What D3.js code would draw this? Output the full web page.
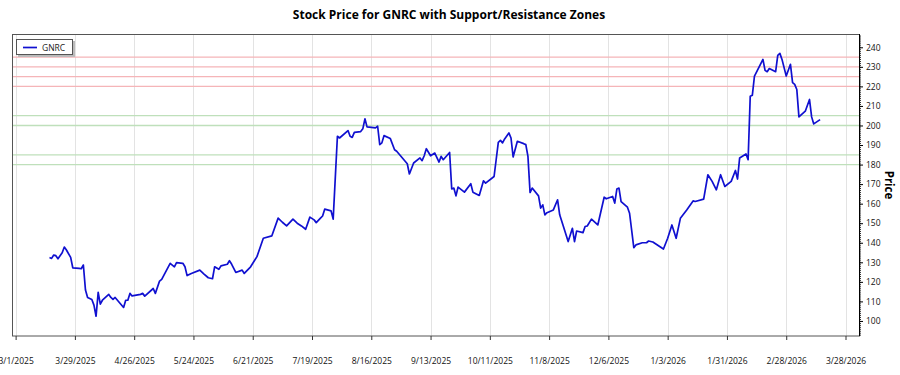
<!DOCTYPE html>
<html>
<head>
<meta charset="utf-8">
<script src="https://cdn.jsdelivr.net/npm/d3@7"></script>
<style>
  html, body { margin: 0; padding: 0; background: #fff; }
  svg { display: block; }
</style>
</head>
<body>
<svg id="chart" width="900" height="375"></svg>
<script>
// ---- DATA ----
const title = "Stock Price for GNRC with Support/Resistance Zones";
const seriesName = "GNRC";
const yLabel = "Price";

const dates = [
"2025-03-17","2025-03-18","2025-03-19","2025-03-20","2025-03-21","2025-03-23","2025-03-24","2025-03-25","2025-03-27","2025-03-28",
"2025-03-31","2025-04-01","2025-04-02","2025-04-03","2025-04-04","2025-04-06","2025-04-07","2025-04-08","2025-04-09","2025-04-10",
"2025-04-11","2025-04-14","2025-04-15","2025-04-16","2025-04-17","2025-04-21","2025-04-22","2025-04-23","2025-04-24","2025-04-25",
"2025-04-29","2025-04-30","2025-05-01","2025-05-05","2025-05-06","2025-05-08","2025-05-09","2025-05-13","2025-05-15","2025-05-16",
"2025-05-19","2025-05-20","2025-05-21","2025-05-23","2025-05-27","2025-05-29","2025-05-31","2025-06-02","2025-06-03","2025-06-05",
"2025-06-06","2025-06-09","2025-06-10","2025-06-11","2025-06-13","2025-06-16","2025-06-17","2025-06-20","2025-06-23","2025-06-26",
"2025-06-30","2025-07-03","2025-07-05","2025-07-07","2025-07-10","2025-07-12","2025-07-14","2025-07-16","2025-07-18","2025-07-20",
"2025-07-21","2025-07-23","2025-07-24","2025-07-25","2025-07-28","2025-07-29","2025-07-31","2025-08-01","2025-08-05","2025-08-06",
"2025-08-07","2025-08-08","2025-08-11","2025-08-12","2025-08-13","2025-08-14","2025-08-18","2025-08-19","2025-08-20","2025-08-21",
"2025-08-22","2025-08-25","2025-08-27","2025-08-28","2025-09-02","2025-09-03","2025-09-05","2025-09-08","2025-09-09","2025-09-10",
"2025-09-11","2025-09-13","2025-09-15","2025-09-17","2025-09-18","2025-09-19","2025-09-22","2025-09-23","2025-09-24","2025-09-25",
"2025-09-26","2025-09-29","2025-10-02","2025-10-03","2025-10-06","2025-10-08","2025-10-09","2025-10-13","2025-10-15","2025-10-16",
"2025-10-17","2025-10-18","2025-10-20","2025-10-21","2025-10-22","2025-10-24","2025-10-27","2025-10-28","2025-10-29","2025-10-30",
"2025-10-31","2025-11-03","2025-11-04","2025-11-05","2025-11-06","2025-11-07","2025-11-10","2025-11-12","2025-11-13","2025-11-17",
"2025-11-19","2025-11-20","2025-11-21","2025-11-24","2025-11-25","2025-11-26","2025-11-28","2025-12-01","2025-12-04","2025-12-05",
"2025-12-08","2025-12-09","2025-12-10","2025-12-11","2025-12-12","2025-12-15","2025-12-16","2025-12-18","2025-12-19","2025-12-22",
"2025-12-24","2025-12-25","2025-12-27","2026-01-01","2026-01-03","2026-01-05","2026-01-07","2026-01-09","2026-01-12","2026-01-15",
"2026-01-16","2026-01-20","2026-01-22","2026-01-24","2026-01-26","2026-01-28","2026-01-30","2026-02-02","2026-02-04","2026-02-05",
"2026-02-06","2026-02-09","2026-02-10","2026-02-11","2026-02-12","2026-02-13","2026-02-17","2026-02-18","2026-02-19","2026-02-20",
"2026-02-23","2026-02-24","2026-02-25","2026-02-26","2026-02-28","2026-03-02","2026-03-03","2026-03-04","2026-03-05","2026-03-06",
"2026-03-09","2026-03-11","2026-03-12","2026-03-13","2026-03-16"
];

const prices = [
132.5,132.0,133.7,133.4,131.8,134.9,137.8,136.3,132.5,127.2,
126.9,126.7,128.6,115.8,112.0,111.0,108.1,102.4,114.6,108.6,
110.6,113.6,112.0,111.0,112.0,106.9,110.6,110.6,114.1,112.8,
113.6,114.1,112.7,116.6,114.1,120.4,121.3,129.5,127.7,129.8,
129.5,127.7,123.2,124.3,126.0,124.0,122.1,121.6,127.7,126.4,
128.2,129.0,130.8,129.1,124.8,126.0,124.3,127.7,132.9,142.3,
143.5,152.6,150.5,148.6,152.1,150.0,148.6,146.9,153.1,151.7,
150.3,152.6,153.7,157.2,156.3,152.1,194.5,193.6,197.4,194.5,
193.9,196.5,196.9,198.3,203.4,199.3,198.8,199.6,190.2,191.1,
194.8,193.3,187.6,186.8,180.4,175.2,180.8,183.4,182.0,184.5,
188.1,184.5,185.9,181.3,184.2,182.5,186.2,167.5,168.0,164.0,
168.5,165.9,170.2,165.9,164.2,171.7,170.5,173.9,191.4,192.4,
191.1,193.1,196.2,193.6,183.9,191.9,190.7,190.2,184.2,165.7,
168.0,164.0,157.7,159.4,154.3,155.4,156.8,162.0,154.3,140.6,
147.4,140.6,146.0,145.2,148.3,148.6,152.1,149.1,163.3,162.5,
163.7,160.3,167.5,168.0,161.1,158.2,155.1,137.5,138.9,140.0,
140.0,140.9,140.4,136.8,142.3,149.1,142.3,152.5,156.8,161.4,
161.1,162.3,174.8,171.4,167.1,174.8,168.8,171.4,177.0,172.6,
183.4,185.4,182.5,215.0,215.5,225.3,233.8,228.2,227.5,229.1,
227.5,235.9,236.9,233.8,225.3,231.3,221.9,221.0,218.4,204.4,
207.3,213.3,204.4,200.8,203.0
];

const resistanceLevels = [235, 230, 225, 220];
const supportLevels = [205, 200, 185, 180];

const xTickDates = [
"2025-03-01","2025-03-29","2025-04-26","2025-05-24","2025-06-21","2025-07-19","2025-08-16",
"2025-09-13","2025-10-11","2025-11-08","2025-12-06","2026-01-03","2026-01-31","2026-02-28","2026-03-28"
];
const yTicks = [100, 110, 120, 130, 140, 150, 160, 170, 180, 190, 200, 210, 220, 230, 240];

// ---- LAYOUT ----
const svg = d3.select("#chart");
const plot = { left: 12, right: 859, top: 34, bottom: 336 };
const parse = d3.timeParse("%Y-%m-%d");
const data = dates.map((d, i) => ({ date: parse(d), value: prices[i] }));

const x = d3.scaleTime()
  .domain([new Date(2025, 1, 27, 7), new Date(2026, 3, 3, 9)])
  .range([plot.left, plot.right]);
const y = d3.scaleLinear()
  .domain([92.3, 246.8])
  .range([plot.bottom, plot.top]);

const fontFam = "'Open Sans', 'Noto Sans', sans-serif";

// Title
svg.append("text")
  .attr("x", 449)
  .attr("y", 19)
  .attr("text-anchor", "middle")
  .attr("font-family", fontFam)
  .attr("font-weight", "bold")
  .attr("font-size", 12)
  .attr("fill", "#000")
  .text(title);

// clip
svg.append("clipPath").attr("id", "clip")
  .append("rect")
  .attr("x", plot.left).attr("y", plot.top)
  .attr("width", plot.right - plot.left).attr("height", plot.bottom - plot.top);

// vertical gridlines
const xTicks = xTickDates.map(parse);
svg.append("g").attr("clip-path", "url(#clip)")
  .selectAll("line").data(xTicks).join("line")
  .attr("x1", d => Math.round(x(d)) + 0.5).attr("x2", d => Math.round(x(d)) + 0.5)
  .attr("y1", plot.top).attr("y2", plot.bottom)
  .attr("stroke", "#e3e3e3").attr("stroke-width", 1);

// zone lines
svg.append("g").selectAll("line").data(resistanceLevels).join("line")
  .attr("x1", plot.left).attr("x2", plot.right)
  .attr("y1", d => y(d)).attr("y2", d => y(d))
  .attr("stroke", "#f5b5b8").attr("stroke-width", 1.3);
svg.append("g").selectAll("line").data(supportLevels).join("line")
  .attr("x1", plot.left).attr("x2", plot.right)
  .attr("y1", d => y(d)).attr("y2", d => y(d))
  .attr("stroke", "#bfe0bb").attr("stroke-width", 1.3);

// price line
const line = d3.line().x(d => x(d.date)).y(d => y(d.value));
svg.append("path").datum(data)
  .attr("clip-path", "url(#clip)")
  .attr("d", line)
  .attr("fill", "none")
  .attr("stroke", "#1010d0")
  .attr("stroke-width", 1.7)
  .attr("stroke-linejoin", "round");

// frame
svg.append("rect")
  .attr("x", plot.left + 0.5).attr("y", plot.top + 0.5)
  .attr("width", plot.right - plot.left).attr("height", plot.bottom - plot.top - 0.5)
  .attr("fill", "none").attr("stroke", "#555").attr("stroke-width", 1);

// bottom axis
const xAxis = d3.axisBottom(x)
  .tickValues(xTicks)
  .tickSize(4)
  .tickPadding(18)
  .tickFormat(d3.timeFormat("%-m/%-d/%Y"));
const gx = svg.append("g")
  .attr("transform", `translate(0,${plot.bottom})`)
  .call(xAxis);
gx.select(".domain").remove();
gx.selectAll(".tick line").attr("stroke", "#333");
gx.selectAll("text").attr("font-family", fontFam).attr("font-size", 8.5).attr("fill", "#111");

// right axis
const minorVals = d3.range(93, 247, 1);
const gyMinor = svg.append("g")
  .attr("transform", `translate(${plot.right},0)`)
  .call(d3.axisRight(y).tickValues(minorVals).tickSize(2).tickFormat(""));
gyMinor.select(".domain").remove();
gyMinor.selectAll(".tick line").attr("stroke", "#333");

const gy = svg.append("g")
  .attr("transform", `translate(${plot.right},0)`)
  .call(d3.axisRight(y).tickValues(yTicks).tickSize(4).tickPadding(3));
gy.select(".domain").attr("stroke", "#000").attr("d", `M0.5,${plot.top}V${plot.bottom}`);
gy.selectAll(".tick line").attr("stroke", "#000");
gy.selectAll("text").attr("font-family", fontFam).attr("font-size", 8.5).attr("fill", "#111");

// y label
svg.append("text")
  .attr("transform", `translate(885,${(plot.top + plot.bottom) / 2}) rotate(90)`)
  .attr("text-anchor", "middle")
  .attr("font-family", fontFam)
  .attr("font-weight", "bold")
  .attr("font-size", 11.5)
  .attr("fill", "#000")
  .text(yLabel);

// legend
const lg = svg.append("g");
lg.append("rect").attr("x", 18).attr("y", 41).attr("width", 57).attr("height", 16)
  .attr("fill", "#bbb");
lg.append("rect").attr("x", 16.5).attr("y", 39.5).attr("width", 56).attr("height", 15)
  .attr("fill", "#fff").attr("stroke", "#555").attr("stroke-width", 1);
lg.append("line").attr("x1", 23).attr("x2", 37).attr("y1", 47.5).attr("y2", 47.5)
  .attr("stroke", "#1010d0").attr("stroke-width", 1.7);
lg.append("text").attr("x", 42).attr("y", 50.5)
  .attr("font-family", fontFam).attr("font-size", 8.5).attr("fill", "#222")
  .text(seriesName);
</script>
</body>
</html>
